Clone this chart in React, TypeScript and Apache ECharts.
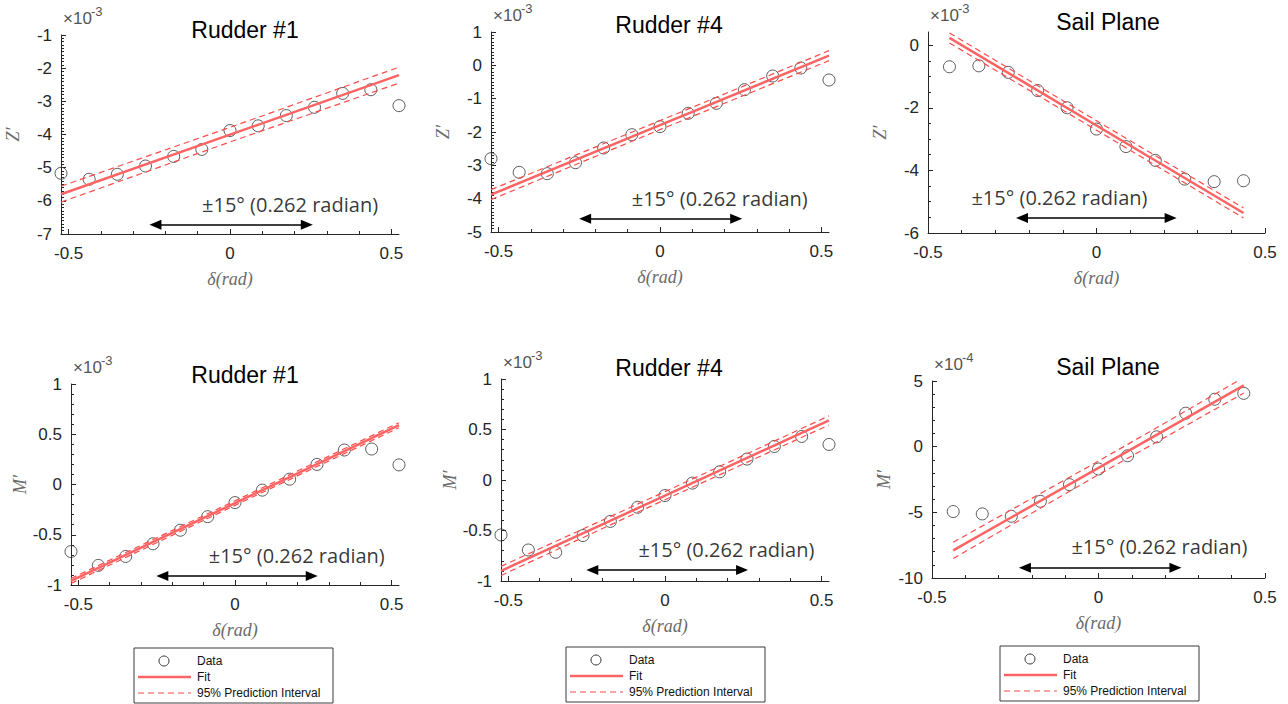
import React, { useEffect, useRef } from "react";
import * as echarts from "echarts";

// ---------- data ----------
const X_RUDDER = [-0.5236, -0.4363, -0.3491, -0.2618, -0.1745, -0.0873, 0, 0.0873, 0.1745, 0.2618, 0.3491, 0.4363, 0.5236];
const X_SAIL = [-0.4363, -0.3491, -0.2618, -0.1745, -0.0873, 0, 0.0873, 0.1745, 0.2618, 0.3491, 0.4363];

// Z' (x1e-3)
const Z_RUDDER1 = [-5.17, -5.35, -5.2, -4.95, -4.66, -4.45, -3.88, -3.74, -3.43, -3.18, -2.76, -2.65, -3.13];
const Z_RUDDER4 = [-2.8, -3.21, -3.25, -2.92, -2.48, -2.08, -1.84, -1.44, -1.14, -0.73, -0.32, -0.08, -0.44];
const Z_SAIL = [-0.69, -0.66, -0.87, -1.45, -2.0, -2.68, -3.24, -3.68, -4.28, -4.36, -4.33];
// M' (x1e-3, sail plane x1e-4)
const M_RUDDER1 = [-0.667, -0.805, -0.716, -0.59, -0.455, -0.32, -0.18, -0.056, 0.053, 0.2, 0.343, 0.353, 0.195];
const M_RUDDER4 = [-0.544, -0.693, -0.716, -0.55, -0.41, -0.27, -0.154, -0.031, 0.081, 0.207, 0.332, 0.431, 0.352];
const M_SAIL = [-4.94, -5.12, -5.3, -4.16, -2.89, -1.7, -0.69, 0.75, 2.55, 3.61, 4.06];

// fit lines and 95% prediction bounds (left end, centre, right end)
const FIT_X_RUDDER = [-0.5236, 0, 0.5236];
const FIT_X_SAIL = [-0.4363, 0, 0.4363];
const FIT_Z_R1 = [-5.8, -4.005, -2.21];
const UP_Z_R1 = [-5.56, -3.785, -1.97];
const LO_Z_R1 = [-6.04, -4.225, -2.45];
const FIT_Z_R4 = [-3.88, -1.795, 0.29];
const UP_Z_R4 = [-3.73, -1.66, 0.44];
const LO_Z_R4 = [-4.03, -1.93, 0.14];
const FIT_Z_SP = [0.23, -2.565, -5.36];
const UP_Z_SP = [0.39, -2.415, -5.2];
const LO_Z_SP = [0.07, -2.715, -5.52];
const FIT_M_R1 = [-0.96, -0.185, 0.59];
const UP_M_R1 = [-0.935, -0.162, 0.615];
const LO_M_R1 = [-0.985, -0.208, 0.565];
const FIT_M_R4 = [-0.9, -0.155, 0.59];
const UP_M_R4 = [-0.855, -0.115, 0.635];
const LO_M_R4 = [-0.945, -0.195, 0.545];
const FIT_M_SP = [-7.9, -1.615, 4.67];
const UP_M_SP = [-7.28, -1.1, 5.26];
const LO_M_SP = [-8.52, -2.13, 4.08];

// tick labels
const X_TICKS = [-0.5, 0, 0.5];
const X_MINOR = [-0.4, -0.3, -0.2, -0.1, 0.1, 0.2, 0.3, 0.4];
const YT_Z_R1 = [-7, -6, -5, -4, -3, -2, -1];
const YT_Z_R4 = [-5, -4, -3, -2, -1, 0, 1];
const YT_Z_SP = [-6, -4, -2, 0];
const YT_M_R = [-1, -0.5, 0, 0.5, 1];
const YT_M_SP = [-10, -5, 0, 5];

// annotation: arrow [x0, x1, y] and text [x, y]
const NOTE_TEXT = "±15° (0.262 radian)";
const ARROW_Z_R1 = [-0.231, 0.238, -6.72];
const ARROW_Z_R4 = [-0.232, 0.236, -4.6];
const ARROW_Z_SP = [-0.221, 0.22, -5.52];
const ARROW_M_R1 = [-0.232, 0.245, -0.91];
const ARROW_M_R4 = [-0.232, 0.246, -0.89];
const ARROW_M_SP = [-0.221, 0.231, -9.22];
const NOTE_Z_R1 = [0.186, -6.12];
const NOTE_Z_R4 = [0.185, -4.0];
const NOTE_Z_SP = [-0.11, -4.88];
const NOTE_M_R1 = [0.197, -0.706];
const NOTE_M_R4 = [0.196, -0.69];
const NOTE_M_SP = [0.183, -7.6];

const LEGEND_ITEMS = ["Data", "Fit", "95% Prediction Interval"];

// ---------- styling ----------
const AXIS_COLOR = "#262626";
const FIT_COLOR = "#ff6464";
const PI_COLOR = "#ff4a4a";
const TICK_FONT = "Liberation Sans";

type Panel = {
  title: string;
  yName: string;
  exp: string;
  x: number[];
  y: number[];
  fitX: number[];
  fit: number[];
  up: number[];
  lo: number[];
  yTicks: number[];
  minorDiv: number;
  xRange: number[];
  yRange: number[];
  arrow: number[];
  note: number[];
  rect: { left: number; top: number; width: number; height: number };
  titlePos: number[];
};

const PANELS: Panel[] = [
  { title: "Rudder #1", yName: "Z′", exp: "-3", x: X_RUDDER, y: Z_RUDDER1, fitX: FIT_X_RUDDER, fit: FIT_Z_R1, up: UP_Z_R1, lo: LO_Z_R1, yTicks: YT_Z_R1, minorDiv: 10, xRange: [-0.5236, 0.5236], yRange: [-7, -1], arrow: ARROW_Z_R1, note: NOTE_Z_R1, rect: { left: 61, top: 35, width: 338, height: 199 }, titlePos: [245, 30] },
  { title: "Rudder #4", yName: "Z′", exp: "-3", x: X_RUDDER, y: Z_RUDDER4, fitX: FIT_X_RUDDER, fit: FIT_Z_R4, up: UP_Z_R4, lo: LO_Z_R4, yTicks: YT_Z_R4, minorDiv: 10, xRange: [-0.5236, 0.5236], yRange: [-5, 1], arrow: ARROW_Z_R4, note: NOTE_Z_R4, rect: { left: 491, top: 32, width: 338, height: 200 }, titlePos: [669, 25] },
  { title: "Sail Plane", yName: "Z′", exp: "-3", x: X_SAIL, y: Z_SAIL, fitX: FIT_X_SAIL, fit: FIT_Z_SP, up: UP_Z_SP, lo: LO_Z_SP, yTicks: YT_Z_SP, minorDiv: 4, xRange: [-0.5, 0.5], yRange: [-6, 0.42], arrow: ARROW_Z_SP, note: NOTE_Z_SP, rect: { left: 928, top: 32, width: 337, height: 201 }, titlePos: [1108, 22] },
  { title: "Rudder #1", yName: "M′", exp: "-3", x: X_RUDDER, y: M_RUDDER1, fitX: FIT_X_RUDDER, fit: FIT_M_R1, up: UP_M_R1, lo: LO_M_R1, yTicks: YT_M_R, minorDiv: 5, xRange: [-0.5236, 0.5236], yRange: [-1, 1], arrow: ARROW_M_R1, note: NOTE_M_R1, rect: { left: 71, top: 384, width: 328, height: 201 }, titlePos: [245, 375] },
  { title: "Rudder #4", yName: "M′", exp: "-3", x: X_RUDDER, y: M_RUDDER4, fitX: FIT_X_RUDDER, fit: FIT_M_R4, up: UP_M_R4, lo: LO_M_R4, yTicks: YT_M_R, minorDiv: 5, xRange: [-0.5236, 0.5236], yRange: [-1, 1], arrow: ARROW_M_R4, note: NOTE_M_R4, rect: { left: 501, top: 379, width: 328, height: 202 }, titlePos: [669, 368] },
  { title: "Sail Plane", yName: "M′", exp: "-4", x: X_SAIL, y: M_SAIL, fitX: FIT_X_SAIL, fit: FIT_M_SP, up: UP_M_SP, lo: LO_M_SP, yTicks: YT_M_SP, minorDiv: 5, xRange: [-0.5, 0.5], yRange: [-10, 5], arrow: ARROW_M_SP, note: NOTE_M_SP, rect: { left: 932, top: 381, width: 333, height: 197 }, titlePos: [1108, 367] },
];

const LEGEND_BOXES = [
  { left: 134, top: 648 },
  { left: 566, top: 647 },
  { left: 1000, top: 646 },
];

function minorTicks(major: number[], div: number): number[] {
  const out: number[] = [];
  for (let i = 0; i < major.length - 1; i++) {
    const a = major[i];
    const b = major[i + 1];
    for (let k = 1; k < div; k++) out.push(+(a + ((b - a) * k) / div).toFixed(6));
  }
  return out;
}

function buildOption() {
  const grid: any[] = [];
  const xAxis: any[] = [];
  const yAxis: any[] = [];
  const series: any[] = [];
  const graphic: any[] = [];
  const tickStyle = { color: AXIS_COLOR, width: 1 };
  const labelStyle = { color: AXIS_COLOR, fontSize: 17, fontFamily: TICK_FONT };
  const nameStyle = { color: "#6a6a6a", fontSize: 18, fontFamily: "Liberation Serif", fontStyle: "italic" };

  PANELS.forEach((p, i) => {
    grid.push({ ...p.rect, containLabel: false });
    xAxis.push({
      gridIndex: i, type: "value", position: "bottom", min: p.xRange[0], max: p.xRange[1],
      name: "δ(rad)", nameLocation: "middle", nameGap: 36, nameTextStyle: nameStyle,
      axisLine: { show: true, onZero: false, lineStyle: tickStyle },
      axisTick: { show: true, inside: true, length: 5, customValues: X_TICKS, lineStyle: tickStyle },
      axisLabel: { show: true, customValues: X_TICKS, margin: 11, ...labelStyle },
      splitLine: { show: false },
    });
    xAxis.push({
      gridIndex: i, type: "value", position: "bottom", min: p.xRange[0], max: p.xRange[1],
      axisLine: { show: false, onZero: false },
      axisTick: { show: true, inside: true, length: 3, customValues: X_MINOR, lineStyle: tickStyle },
      axisLabel: { show: false },
      splitLine: { show: false },
    });
    yAxis.push({
      gridIndex: i, type: "value", position: "left", min: p.yRange[0], max: p.yRange[1],
      name: p.yName, nameLocation: "middle", nameGap: 39, nameTextStyle: nameStyle,
      axisLine: { show: true, onZero: false, lineStyle: tickStyle },
      axisTick: { show: true, inside: true, length: 5, customValues: p.yTicks, lineStyle: tickStyle },
      axisLabel: { show: true, customValues: p.yTicks, margin: 9, ...labelStyle },
      splitLine: { show: false },
    });
    yAxis.push({
      gridIndex: i, type: "value", position: "left", min: p.yRange[0], max: p.yRange[1],
      axisLine: { show: false, onZero: false },
      axisTick: { show: true, inside: true, length: 3, customValues: minorTicks(p.yTicks, p.minorDiv), lineStyle: tickStyle },
      axisLabel: { show: false },
      splitLine: { show: false },
    });
    const xi = 2 * i;
    series.push({
      type: "scatter", xAxisIndex: xi, yAxisIndex: xi, silent: true,
      symbol: "circle", symbolSize: 12,
      itemStyle: { color: "rgba(0,0,0,0)", borderColor: "#333", borderWidth: 1 },
      data: p.x.map((x, j) => [x, p.y[j]]),
      z: 2,
    });
    series.push({
      type: "line", xAxisIndex: xi, yAxisIndex: xi, silent: true, showSymbol: false, symbol: "none",
      lineStyle: { color: FIT_COLOR, width: 2.5 },
      data: p.fitX.map((x, j) => [x, p.fit[j]]),
      z: 3,
      markLine: {
        silent: true, symbol: ["triangle", "triangle"], symbolSize: [10, 12],
        label: { show: false },
        lineStyle: { color: "#000", width: 1.5, type: "solid" },
        itemStyle: { color: "#000" },
        data: [[{ coord: [p.arrow[0], p.arrow[2]] }, { coord: [p.arrow[1], p.arrow[2]] }]],
      },
    });
    [p.up, p.lo].forEach((b) => {
      series.push({
        type: "line", xAxisIndex: xi, yAxisIndex: xi, silent: true, showSymbol: false, symbol: "none",
        lineStyle: { color: PI_COLOR, width: 1.2, type: [6, 4] },
        data: p.fitX.map((x, j) => [x, b[j]]),
        z: 3,
      });
    });
    series.push({
      type: "scatter", xAxisIndex: xi, yAxisIndex: xi, silent: true, symbolSize: 1,
      itemStyle: { color: "rgba(0,0,0,0)" },
      label: { show: true, position: "inside", formatter: NOTE_TEXT, color: "#000", fontSize: 20, fontFamily: "Open Sans" },
      data: [[p.note[0], p.note[1]]],
      z: 4,
    });

    graphic.push({
      type: "text", x: p.titlePos[0], y: p.titlePos[1],
      style: { text: p.title, fill: "#000", fontSize: 23, fontFamily: "Liberation Sans", align: "center", verticalAlign: "middle" },
    });
    graphic.push({
      type: "text", x: p.rect.left + 2, y: p.rect.top - 17,
      style: { text: "×10", fill: "#555", fontSize: 17, fontFamily: TICK_FONT, align: "left", verticalAlign: "middle" },
    });
    graphic.push({
      type: "text", x: p.rect.left + 30, y: p.rect.top - 24,
      style: { text: p.exp, fill: "#555", fontSize: 13, fontFamily: TICK_FONT, align: "left", verticalAlign: "middle" },
    });
  });

  LEGEND_BOXES.forEach((b) => {
    const fs = 12;
    graphic.push({ type: "rect", shape: { x: b.left, y: b.top, width: 199, height: 55 }, style: { fill: "#fff", stroke: "#3a3a3a", lineWidth: 1 }, z: 10 });
    graphic.push({ type: "circle", shape: { cx: b.left + 30, cy: b.top + 13, r: 5 }, style: { fill: "none", stroke: "#333", lineWidth: 1 }, z: 11 });
    graphic.push({ type: "line", shape: { x1: b.left + 4, y1: b.top + 29, x2: b.left + 57, y2: b.top + 29 }, style: { stroke: FIT_COLOR, lineWidth: 2.5 }, z: 11 });
    graphic.push({ type: "line", shape: { x1: b.left + 4, y1: b.top + 45, x2: b.left + 57, y2: b.top + 45 }, style: { stroke: PI_COLOR, lineWidth: 1.2, lineDash: [6, 4] }, z: 11 });
    LEGEND_ITEMS.forEach((t, k) => {
      graphic.push({ type: "text", x: b.left + 63, y: b.top + 13 + k * 16, style: { text: t, fill: "#111", fontSize: fs, fontFamily: TICK_FONT, align: "left", verticalAlign: "middle" }, z: 11 });
    });
  });

  return { animation: false, backgroundColor: "#fff", grid, xAxis, yAxis, series, graphic };
}

export default function App() {
  const ref = useRef<HTMLDivElement>(null);
  useEffect(() => {
    if (!ref.current) return;
    const chart = echarts.init(ref.current, undefined, { renderer: "svg" });
    chart.setOption(buildOption() as any);
    return () => chart.dispose();
  }, []);
  return <div ref={ref} style={{ position: "absolute", left: 0, top: 0, width: 1288, height: 704, background: "#fff" }} />;
}
